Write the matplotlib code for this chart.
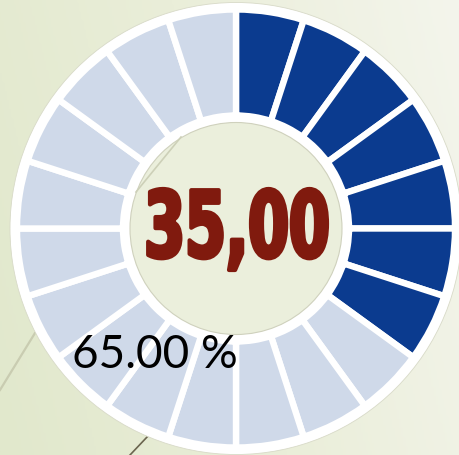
import numpy as np
import matplotlib.pyplot as plt
import matplotlib.patheffects as pe
from matplotlib.patches import Circle
from matplotlib.colors import LinearSegmentedColormap
from matplotlib.transforms import Affine2D

# gauge data
value_label = "35,00"
rest_label = "65.00 %"
segments = [5] * 20          # 20 blocks of 5 %
filled_blocks = 7            # 35 % -> 7 blocks
dark_blue = '#0b3b8f'
light_blue = '#cfd9e9'
colors = [dark_blue] * filled_blocks + [light_blue] * (len(segments) - filled_blocks)

W, H = 459, 455


class Squeeze(pe.AbstractPathEffect):
    # narrows the glyphs horizontally around x0 (pixels), Impact-like look
    def __init__(self, x0, sx, stroke=0):
        super().__init__()
        self.x0, self.sx, self.stroke = x0, sx, stroke

    def draw_path(self, renderer, gc, tpath, affine, rgbFace):
        aff = affine + Affine2D().translate(-self.x0, 0).scale(self.sx, 1).translate(self.x0, 0)
        gc0 = renderer.new_gc()
        gc0.copy_properties(gc)
        gc0.set_linewidth(self.stroke)
        gc0.set_foreground(rgbFace)
        renderer.draw_path(gc0, tpath, aff, rgbFace)
        gc0.restore()


fig = plt.figure(figsize=(W / 100, H / 100), dpi=100)

# background gradient
bg = fig.add_axes([0, 0, 1, 1])
cmap = LinearSegmentedColormap.from_list('bg', ['#e1e8cc', '#eaeed9', '#f4f5ec'])
gx, gy = np.meshgrid(np.linspace(0, 1, 200), np.linspace(0, 1, 200))
bg.imshow(0.8 * gx + 0.2 * gy, cmap=cmap, extent=[0, W, 0, H], origin='lower', aspect='auto')
# decorative theme lines
bg.plot([0, 35], [H - 390, H - 333], color='#c9ccb1', lw=1.6)
bg.plot([130, 148], [H - 455, H - 436], color='#6b654f', lw=1.2)
bg.set_xlim(0, W)
bg.set_ylim(0, H)
bg.axis('off')

ax = fig.add_axes([0, 0, 1, 1])
ax.patch.set_alpha(0)
cx, cy = 236, H - 228.5

ax.add_patch(Circle((cx, cy), 226, facecolor='white', edgecolor='#d8dac8', lw=0.6, zorder=0))
ax.pie(segments, colors=colors, startangle=90, counterclock=False,
       center=(cx, cy), radius=219,
       wedgeprops=dict(width=106, edgecolor='white', linewidth=4.6))
ax.add_patch(Circle((cx, cy), 106, facecolor='#ebefdc', edgecolor='#cfd1bd', lw=0.8, zorder=3))
ax.plot([181, 136], [H - 137, H - 192], color='#cdd0b8', lw=1.2, zorder=4)

ax.text(237, H - 257, value_label, ha='center', va='baseline',
        fontsize=66, fontweight='bold', family='DejaVu Sans',
        color='#801a0e', zorder=5,
        path_effects=[Squeeze(237, 0.64, stroke=3)])
ax.text(72, H - 368, rest_label, ha='left', va='baseline',
        fontsize=33, fontweight='normal', family=['Lato', 'DejaVu Sans'],
        color='black', zorder=6)

ax.set_xlim(0, W)
ax.set_ylim(0, H)
ax.set_aspect('equal')
ax.axis('off')

fig.savefig('out.png', dpi=100)
